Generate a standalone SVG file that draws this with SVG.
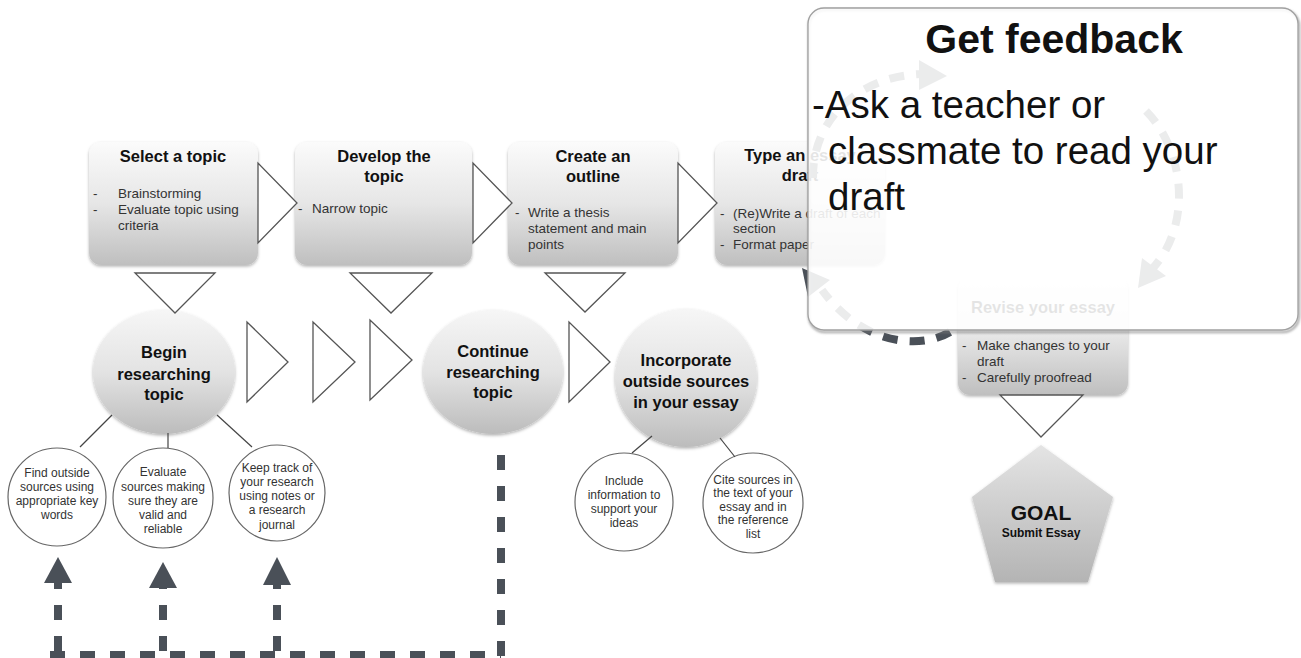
<svg xmlns="http://www.w3.org/2000/svg" width="1301" height="658" viewBox="0 0 1301 658">
<defs>
<linearGradient id="gBox" x1="0" y1="0" x2="0" y2="1">
<stop offset="0" stop-color="#fbfbfb"/><stop offset="0.5" stop-color="#e6e6e6"/><stop offset="1" stop-color="#bfbfbf"/>
</linearGradient>
<linearGradient id="gCir" x1="0" y1="0" x2="0" y2="1">
<stop offset="0" stop-color="#f6f6f6"/><stop offset="0.5" stop-color="#e3e3e3"/><stop offset="1" stop-color="#bcbcbc"/>
</linearGradient>
<linearGradient id="gPent" x1="0" y1="0" x2="0" y2="1">
<stop offset="0" stop-color="#e4e4e4"/><stop offset="1" stop-color="#b4b4b4"/>
</linearGradient>
<filter id="sh" x="-10%" y="-10%" width="120%" height="125%">
<feDropShadow dx="0" dy="1.5" stdDeviation="1.5" flood-color="#000" flood-opacity="0.3"/>
</filter>
<filter id="blur" x="-5%" y="-5%" width="110%" height="115%">
<feGaussianBlur stdDeviation="1.2"/>
</filter>
<style>
.box{fill:url(#gBox);filter:url(#sh);}
.cir{fill:url(#gCir);filter:url(#sh);}
.tri{fill:#fff;stroke:#555;stroke-width:1.3;stroke-linejoin:miter;}
.sc{fill:#fff;stroke:#666;stroke-width:1.2;}
.ln{stroke:#444;stroke-width:1.2;fill:none;}
.t{font-family:"Liberation Sans",Arial,sans-serif;font-weight:bold;font-size:16.5px;fill:#111;text-anchor:middle;}
.i{font-family:"Liberation Sans",Arial,sans-serif;font-size:13.5px;fill:#333;}
.s{font-family:"Liberation Sans",Arial,sans-serif;font-size:12px;fill:#333;text-anchor:middle;}
.big{font-family:"Liberation Sans",Arial,sans-serif;font-size:38.5px;fill:#111;}
.dash{stroke:#4a5058;stroke-width:8;fill:none;stroke-dasharray:15 16;}
.ah{fill:#4a5058;}
</style>
</defs>

<g id="node-select-topic">
<rect class="box" x="89" y="142" width="169" height="123" rx="12"/>
<text class="t" x="173" y="162">Select a topic</text>
<text class="i" x="93" y="198">-</text><text class="i" x="118" y="198">Brainstorming</text>
<text class="i" x="93" y="214">-</text><text class="i" x="118" y="214">Evaluate topic using</text>
<text class="i" x="118" y="230">criteria</text>
</g>
<g id="node-develop-topic">
<rect class="box" x="295" y="142" width="177" height="123" rx="12"/>
<text class="t" x="384" y="162">Develop the</text>
<text class="t" x="384" y="182">topic</text>
<text class="i" x="298" y="213">-</text><text class="i" x="312" y="213">Narrow topic</text>
</g>
<g id="node-create-outline">
<rect class="box" x="508" y="142" width="170" height="123" rx="12"/>
<text class="t" x="593" y="162">Create an</text>
<text class="t" x="593" y="182">outline</text>
<text class="i" x="515" y="217">-</text><text class="i" x="528" y="217">Write a thesis</text>
<text class="i" x="528" y="233">statement and main</text>
<text class="i" x="528" y="249">points</text>
</g>
<g id="node-type-draft">
<rect class="box" x="715" y="142" width="170" height="123" rx="12"/>
<text class="t" x="800" y="161">Type an essay</text>
<text class="t" x="800" y="181">draft</text>
<text class="i" x="720" y="218">-</text><text class="i" x="733" y="218">(Re)Write a draft of each</text>
<text class="i" x="733" y="233">section</text>
<text class="i" x="720" y="249">-</text><text class="i" x="733" y="249">Format paper</text>
</g>
<g id="node-revise">
<rect class="box" x="958" y="277" width="170" height="118" rx="12"/>
<text class="t" x="1043" y="313">Revise your essay</text>
<text class="i" x="962" y="350">-</text><text class="i" x="977" y="350">Make changes to your</text>
<text class="i" x="977" y="366">draft</text>
<text class="i" x="962" y="382">-</text><text class="i" x="977" y="382">Carefully proofread</text>
</g>

<g id="node-begin-research">
<ellipse class="cir" cx="164" cy="372" rx="71" ry="62"/>
<text class="t" x="164" y="358">Begin</text>
<text class="t" x="164" y="380">researching</text>
<text class="t" x="164" y="400">topic</text>
</g>
<g id="node-continue-research">
<ellipse class="cir" cx="493" cy="372" rx="70" ry="62"/>
<text class="t" x="493" y="357">Continue</text>
<text class="t" x="493" y="378">researching</text>
<text class="t" x="493" y="398">topic</text>
</g>
<g id="node-incorporate">
<ellipse class="cir" cx="686" cy="378" rx="71" ry="69"/>
<text class="t" x="686" y="366">Incorporate</text>
<text class="t" x="686" y="387">outside sources</text>
<text class="t" x="686" y="408">in your essay</text>
</g>

<g id="node-find-sources">
<circle class="sc" cx="57" cy="497" r="49"/>
<text class="s" x="57" y="477">Find outside</text>
<text class="s" x="57" y="491">sources using</text>
<text class="s" x="57" y="505">appropriate key</text>
<text class="s" x="57" y="519">words</text>
</g>
<g id="node-evaluate-sources">
<circle class="sc" cx="163" cy="498" r="50"/>
<text class="s" x="163" y="476">Evaluate</text>
<text class="s" x="163" y="491">sources making</text>
<text class="s" x="163" y="505">sure they are</text>
<text class="s" x="163" y="519">valid and</text>
<text class="s" x="163" y="533">reliable</text>
</g>
<g id="node-keep-track">
<circle class="sc" cx="277" cy="493" r="48"/>
<text class="s" x="277" y="472">Keep track of</text>
<text class="s" x="277" y="486">your research</text>
<text class="s" x="277" y="500">using notes or</text>
<text class="s" x="277" y="514">a research</text>
<text class="s" x="277" y="529">journal</text>
</g>
<g id="node-include-info">
<circle class="sc" cx="624" cy="502" r="49"/>
<text class="s" x="624" y="485">Include</text>
<text class="s" x="624" y="499">information to</text>
<text class="s" x="624" y="513">support your</text>
<text class="s" x="624" y="527">ideas</text>
</g>
<g id="node-cite-sources">
<circle class="sc" cx="753" cy="503" r="50"/>
<text class="s" x="753" y="484">Cite sources in</text>
<text class="s" x="753" y="497">the text of your</text>
<text class="s" x="753" y="511">essay and in</text>
<text class="s" x="753" y="524">the reference</text>
<text class="s" x="753" y="538">list</text>
</g>

<g id="node-goal">
<polygon points="1041,445 1113,497 1088,582 995,582 972,497" fill="url(#gPent)" filter="url(#sh)"/>
<text class="t" x="1041" y="520" style="font-size:21px">GOAL</text>
<text class="t" x="1041" y="537" style="font-size:12px">Submit Essay</text>
</g>

<g id="connectors">
<polygon class="tri" points="258,163 258,243 297,203"/>
<polygon class="tri" points="473,163 473,243 512,203"/>
<polygon class="tri" points="678,163 678,243 717,203"/>
<polygon class="tri" points="135,273 215,273 175,313"/>
<polygon class="tri" points="350,273 432,273 391,313"/>
<polygon class="tri" points="545,273 625,273 585,312"/>
<polygon class="tri" points="247,322 247,402 288,362"/>
<polygon class="tri" points="313,322 313,402 355,362"/>
<polygon class="tri" points="370,320 370,400 412,360"/>
<polygon class="tri" points="569,322 569,402 610,362"/>
<polygon class="tri" points="1000,395 1083,395 1041,437"/>
<line class="ln" x1="112" y1="415" x2="80" y2="447"/>
<line class="ln" x1="168" y1="433" x2="168" y2="448"/>
<line class="ln" x1="217" y1="415" x2="252" y2="447"/>
<line class="ln" x1="652" y1="436" x2="632" y2="453"/>
<line class="ln" x1="720" y1="438" x2="735" y2="457"/>
<path class="dash" d="M501 455 L501 658"/>
<path class="dash" d="M50 655 L501 655" style="stroke-dasharray:15 15"/>
<path class="dash" d="M58 651 L58 583"/>
<path class="dash" d="M163 651 L163 588"/>
<path class="dash" d="M277 651 L277 585"/>
<polygon class="ah" points="58,557 72,583 44,583"/>
<polygon class="ah" points="163,562 177,588 149,588"/>
<polygon class="ah" points="277,557 291,585 263,585"/>
<path class="dash" d="M813 178 C812 120 858 76 922 74" style="stroke-dasharray:15 12"/>
<polygon class="ah" points="947,76 919,60 919,90"/>
<path class="dash" d="M1146 111 C1185 150 1192 225 1153 268" style="stroke-dasharray:15 12"/>
<polygon class="ah" points="1138,288 1142,258 1166,276"/>
<path class="dash" d="M950 332 C920 350 862 345 822 290" style="stroke-dasharray:15 12"/>
<polygon class="ah" points="802,268 830,280 808,297"/>
</g>

<g id="node-get-feedback">
<rect x="809" y="10" width="490" height="322" rx="16" fill="none" stroke="#777" stroke-width="2.5" stroke-opacity="0.6" filter="url(#blur)"/>
<rect x="808" y="8" width="490" height="322" rx="16" fill="#fff" fill-opacity="0.89" stroke="#a0a0a0" stroke-width="1.3"/>
<text class="t" x="1054" y="53" style="font-size:41px">Get feedback</text>
<text class="big" x="812" y="118">-Ask a teacher or</text>
<text class="big" x="828" y="164">classmate to read your</text>
<text class="big" x="828" y="210">draft</text>
</g>
</svg>
